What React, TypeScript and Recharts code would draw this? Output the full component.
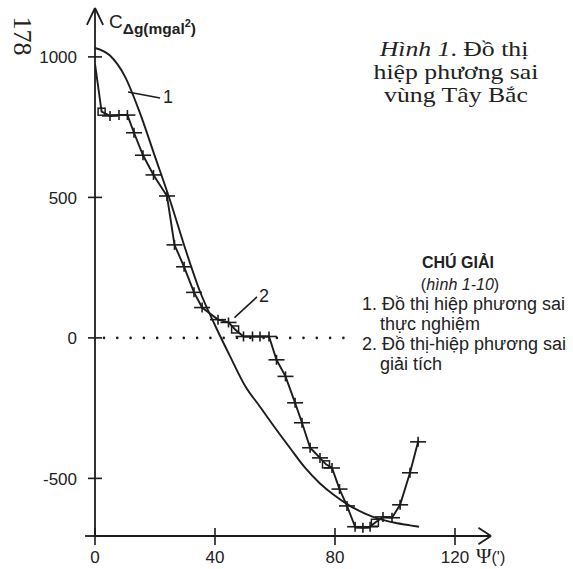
import React from "react";
import { ComposedChart, Line, XAxis, YAxis, ReferenceLine } from "recharts";

// analytic covariance (smooth curve, "1")
const psiAnalytic = [0, 5, 10, 15, 20, 25, 30, 35, 40, 45, 50, 55, 60, 65, 70, 75, 80, 85, 90, 95, 100, 105, 108];
const covAnalytic = [1032, 1005, 930, 800, 645, 490, 320, 165, 45, -65, -170, -245, -320, -392, -462, -518, -562, -598, -625, -645, -658, -667, -672];

// empirical covariance (marked polyline, "2")
const psiEmpirical = [0, 2.2, 5, 8, 10.8, 13, 16, 19.5, 24, 26.5, 29.7, 33, 35.7, 41, 44.5, 46.7, 49.5, 52.5, 55, 58, 60.5, 63.5, 66.7, 69, 71.7, 75, 77, 79, 81.5, 84, 86.7, 89.3, 91.7, 93.3, 96, 99, 101.7, 105, 107.7];
const covEmpirical = [975, 805, 790, 793, 793, 730, 650, 580, 505, 331, 253, 162, 108, 65, 55, 30, 5, 5, 5, 5, -78, -137, -231, -302, -391, -427, -450, -463, -538, -598, -672, -676, -672, -658, -637, -640, -594, -480, -370];
const squarePsi = [2.2, 46.7, 77, 93.3];

const xTicks = [0, 40, 80, 120];
const yTicks = [-500, 0, 500, 1000];

const X_MAX = 132;
const Y_MIN = -705;
const Y_MAX = 1174;

const INK = "#1c1c1c";
const SANS = "'Liberation Sans', Arial, sans-serif";
const SERIF = "'Liberation Serif', 'Times New Roman', serif";

const analytic = psiAnalytic.map((psi, i) => ({ psi, cov: covAnalytic[i] }));
const empirical = psiEmpirical.map((psi, i) => ({ psi, cov: covEmpirical[i] }));

function YTick(props: any) {
  const { x, y, payload } = props;
  return (
    <g>
      <line x1={x - 7} x2={x + 7} y1={y} y2={y} stroke={INK} strokeWidth={1.6} />
      <text x={x - 18} y={y} dy="0.36em" textAnchor="end" fontFamily={SANS} fontSize={17} fill="#222">
        {payload.value}
      </text>
    </g>
  );
}

function XTick(props: any) {
  const { x, y, payload } = props;
  return (
    <g>
      <line x1={x} x2={x} y1={y - 8} y2={y + 9} stroke={INK} strokeWidth={1.6} />
      <text x={x} y={y + 27} textAnchor="middle" fontFamily={SANS} fontSize={17} fill="#222">
        {payload.value}
      </text>
    </g>
  );
}

function EmpiricalDot(props: any) {
  const { cx, cy, index, payload } = props;
  if (index === 0) return <g key={`d-${index}`} />;
  if (squarePsi.includes(payload.psi)) {
    return (
      <rect key={`d-${index}`} x={cx - 3.5} y={cy - 3.5} width={7} height={7} fill="none" stroke={INK} strokeWidth={1.5} />
    );
  }
  return (
    <g key={`d-${index}`}>
      <line x1={cx - 8} x2={cx + 8} y1={cy} y2={cy} stroke={INK} strokeWidth={1.6} />
      <line x1={cx} x2={cx} y1={cy - 5} y2={cy + 5} stroke={INK} strokeWidth={1.6} />
    </g>
  );
}

export default function App() {
  return (
    <div style={{ position: "absolute", left: 0, top: 0, width: 573, height: 569, background: "#fff" }}>
      <ComposedChart width={573} height={569} margin={{ top: 8, right: 82, bottom: 3, left: 35 }}>
        <XAxis
          type="number"
          dataKey="psi"
          domain={[0, X_MAX]}
          ticks={xTicks}
          allowDataOverflow
          height={30}
          tickSize={0}
          tickMargin={0}
          tickLine={false}
          axisLine={{ stroke: INK, strokeWidth: 1.8 }}
          tick={<XTick />}
        />
        <YAxis
          type="number"
          dataKey="cov"
          domain={[Y_MIN, Y_MAX]}
          ticks={yTicks}
          allowDataOverflow
          width={60}
          tickSize={0}
          tickMargin={0}
          tickLine={false}
          axisLine={{ stroke: INK, strokeWidth: 1.8 }}
          tick={<YTick />}
        />
        {/* axis extensions and arrowheads */}
        <ReferenceLine segment={[{ x: -3.3, y: Y_MIN }, { x: 0, y: Y_MIN }]} stroke={INK} strokeWidth={1.8} ifOverflow="visible" />
        <ReferenceLine segment={[{ x: 0, y: Y_MAX }, { x: -2.7, y: Y_MAX - 60 }]} stroke={INK} strokeWidth={1.8} ifOverflow="visible" />
        <ReferenceLine segment={[{ x: 0, y: Y_MAX }, { x: 2.7, y: Y_MAX - 60 }]} stroke={INK} strokeWidth={1.8} ifOverflow="visible" />
        <ReferenceLine segment={[{ x: X_MAX, y: Y_MIN }, { x: X_MAX - 4.2, y: Y_MIN + 29 }]} stroke={INK} strokeWidth={1.8} ifOverflow="visible" />
        <ReferenceLine segment={[{ x: X_MAX, y: Y_MIN }, { x: X_MAX - 4.2, y: Y_MIN - 29 }]} stroke={INK} strokeWidth={1.8} ifOverflow="visible" />
        {/* dotted zero line */}
        <ReferenceLine
          segment={[{ x: 3, y: 0 }, { x: 87, y: 0 }]}
          stroke={INK}
          strokeWidth={2.6}
          strokeDasharray="0 13.3"
          strokeLinecap="round"
          ifOverflow="visible"
        />
        {/* leader lines for curve labels */}
        <ReferenceLine segment={[{ x: 11, y: 875 }, { x: 21.7, y: 854 }]} stroke={INK} strokeWidth={1.6} ifOverflow="visible" />
        <ReferenceLine segment={[{ x: 46.5, y: 72 }, { x: 54, y: 146 }]} stroke={INK} strokeWidth={1.6} ifOverflow="visible" />
        <Line
          data={analytic}
          dataKey="cov"
          type="monotone"
          stroke={INK}
          strokeWidth={1.9}
          dot={false}
          isAnimationActive={false}
        />
        <Line
          data={empirical}
          dataKey="cov"
          type="linear"
          stroke={INK}
          strokeWidth={1.9}
          dot={EmpiricalDot}
          isAnimationActive={false}
        />
      </ComposedChart>
      <svg width={573} height={569} style={{ position: "absolute", left: 0, top: 0, pointerEvents: "none" }}>
        <text transform="translate(22,36) rotate(90)" textAnchor="middle" dominantBaseline="central" fontFamily={SERIF} fontSize={26} fill="#222">
          178
        </text>
        <text x={109} y={28} fontFamily={SANS} fontSize={19} fill="#222">
          C
          <tspan dy={6} fontSize={15.5} fontWeight="bold">Δg(mgal</tspan>
          <tspan dy={-7} fontSize={11} fontWeight="bold">2</tspan>
          <tspan dy={7} fontSize={15.5} fontWeight="bold">)</tspan>
        </text>
        <text x={476} y={563} fontFamily={SERIF} fontSize={21} fill="#222">
          Ψ<tspan fontFamily={SANS} fontSize={16}>(')</tspan>
        </text>
        <text x={163} y={103} fontFamily={SANS} fontSize={18} fill="#222">1</text>
        <text x={259} y={302} fontFamily={SANS} fontSize={18} fill="#222">2</text>

        <g fontFamily={SERIF} fontSize={22} fill="#222" textAnchor="middle">
          <text transform="translate(454,56) scale(1.17,1)">
            <tspan fontStyle="italic">Hình 1</tspan>. Đồ thị
          </text>
          <text transform="translate(456,79) scale(1.17,1)">hiệp phương sai</text>
          <text transform="translate(456,102) scale(1.17,1)">vùng Tây Bắc</text>
        </g>

        <g fontFamily={SANS} fill="#222">
          <text x={458} y={268} textAnchor="middle" fontSize={16} fontWeight="bold">CHÚ GIẢI</text>
          <text x={460} y={290} textAnchor="middle" fontSize={16}>
            (<tspan fontStyle="italic">hình 1-10</tspan>)
          </text>
          <text x={362} y={310} fontSize={18}>1. Đồ thị hiệp phương sai</text>
          <text x={380} y={330} fontSize={18}>thực nghiệm</text>
          <text x={362} y={350} fontSize={18}>2. Đồ thị-hiệp phương sai</text>
          <text x={380} y={370} fontSize={18}>giải tích</text>
        </g>
      </svg>
    </div>
  );
}
